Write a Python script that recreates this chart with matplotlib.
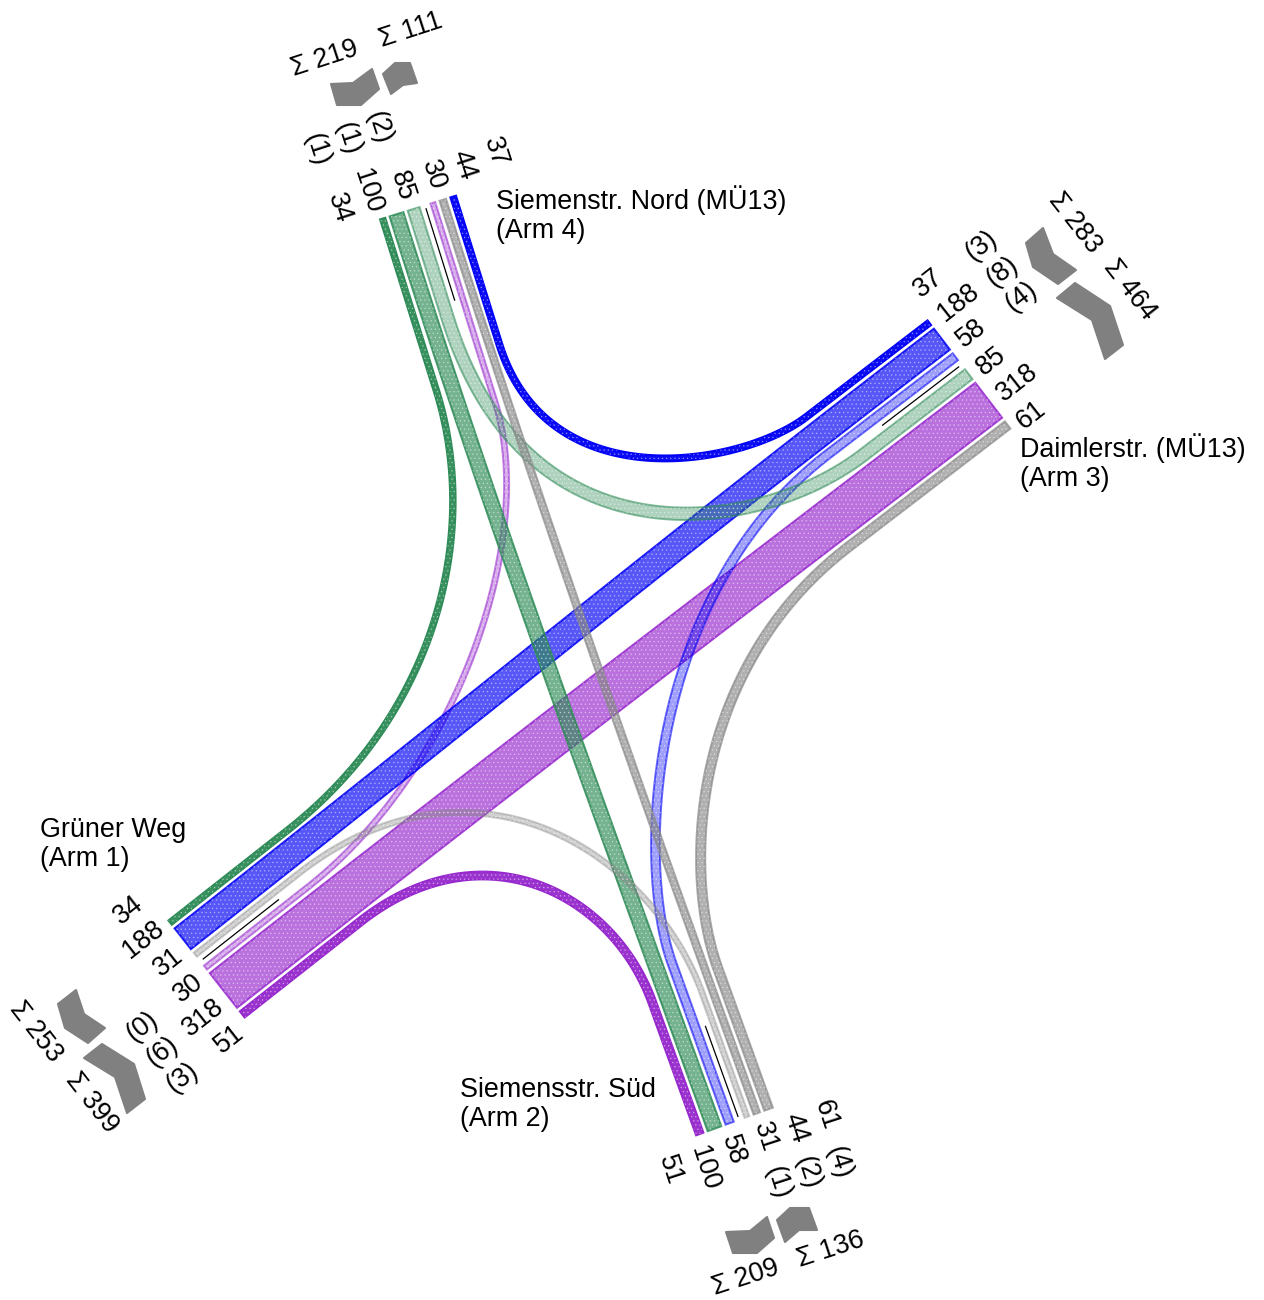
import numpy as np
import matplotlib
matplotlib.use("Agg")
import matplotlib.pyplot as plt
from matplotlib.patches import Polygon

plt.rcParams['font.family'] = ['Liberation Sans', 'DejaVu Sans']
plt.rcParams['hatch.linewidth'] = 0.5

# --- data -----------------------------------------------------------
arm1_values = [34, 188, 31, 30, 318, 51]
arm2_values = [51, 100, 58, 31, 44, 61]
arm3_values = [37, 188, 58, 85, 318, 61]
arm4_values = [34, 100, 85, 30, 44, 37]
arm1_heavy = [0, 6, 3]
arm2_heavy = [1, 2, 4]
arm3_heavy = [3, 8, 4]
arm4_heavy = [1, 1, 2]
arm1_sums = [253, 399]
arm2_sums = [209, 136]
arm3_sums = [283, 464]
arm4_sums = [219, 111]

# geometry of the arms: centre of the arm end, lateral unit vector, inward unit vector
arms = {
    1: dict(c=(206.5, 969.0), lat=(0.618, 0.786), inw=(0.786, -0.618), vals=arm1_values),
    2: dict(c=(734.5, 1121.5), lat=(0.94, -0.339), inw=(-0.339, -0.94), vals=arm2_values),
    3: dict(c=(969.0, 374.5), lat=(0.608, 0.794), inw=(-0.794, 0.608), vals=arm3_values),
    4: dict(c=(418.0, 207.5), lat=(0.954, -0.298), inw=(0.298, 0.954), vals=arm4_values),
}
W0, WK, GAP, MEDIAN = 2.8, 0.136, 2.6, 9.5
EDGE_PX = 1.9
for a in arms.values():
    w = [W0 + WK * v for v in a['vals']]
    gaps = [GAP, GAP, MEDIAN, GAP, GAP]
    total = sum(w) + sum(gaps)
    pos, cur = [], -total / 2
    for i, wi in enumerate(w):
        pos.append(cur + wi / 2)
        cur += wi + (gaps[i] if i < 5 else 0)
        if i == 2:
            a['med'] = cur - MEDIAN / 2
    a['pos'], a['w'] = pos, w

PALETTE = {'blue': (0, 0, 245), 'green': (46, 139, 87), 'purple': (150, 40, 205), 'gray': (135, 135, 135)}
ALPHA = {'solid': 0.95, 'mid': 0.66, 'light': 0.38}
EDGE_BOOST = {'blue': 0.2, 'green': 0.2, 'purple': 0.2, 'gray': 0.04}

# arm A, index in A, arm B, index in B, colour, class, straight A, straight B, handle A, handle B
# straight None marks a through movement, handles are then fractions of the chord
flows = [
    (3, 5, 2, 5, 'gray', 'mid', 200, 150, 0.72, 0.38),     # 61
    (1, 4, 3, 4, 'purple', 'mid', None, None, 0.33, 0.33), # 318
    (1, 5, 2, 0, 'purple', 'solid', 150, 140, 0.60, 0.45), # 51
    (4, 3, 1, 3, 'purple', 'light', 210, 130, 0.50, 0.55), # 30
    (4, 5, 3, 0, 'blue', 'solid', 155, 155, 0.63, 0.28),   # 37
    (3, 1, 1, 1, 'blue', 'mid', None, None, 0.33, 0.33),   # 188
    (3, 2, 2, 2, 'blue', 'light', 160, 170, 0.68, 0.33),   # 58
    (4, 0, 1, 0, 'green', 'solid', 180, 150, 0.55, 0.65),  # 34
    (4, 1, 2, 1, 'green', 'mid', None, None, 0.33, 0.33),  # 100
    (4, 2, 3, 3, 'green', 'light', 115, 133, 0.68, 0.35),  # 85
    (1, 2, 2, 3, 'gray', 'light', 130, 130, 0.62, 0.42),   # 31
    (2, 4, 4, 4, 'gray', 'mid', None, None, 0.33, 0.33),   # 44
]

# label placement
arm4_xy = [(339, 208), (368, 191), (402, 186), (433, 175), (464, 165), (495, 152)]
arm3_xy = [(928, 283), (958, 303), (971, 333), (991, 361), (1017, 383), (1031, 415)]
arm1_xy = [(128, 910), (143, 940), (168, 962), (188, 988), (203, 1018), (229, 1039)]
arm2_xy = [(670, 1170), (705, 1168), (733, 1150), (765, 1137), (796, 1128), (826, 1115)]
arm4_heavy_xy = [(317, 150), (348, 139), (379, 128)]
arm3_heavy_xy = [(981, 246), (1002, 272), (1021, 297)]
arm1_heavy_xy = [(142, 1027), (162, 1052), (182, 1078)]
arm2_heavy_xy = [(778, 1183), (808, 1173), (839, 1162)]
arm4_sum_xy = [(325, 59), (411, 30)]
arm3_sum_xy = [(1075, 223), (1130, 290)]
arm1_sum_xy = [(36, 1032), (92, 1103)]
arm2_sum_xy = [(746, 1278), (831, 1250)]
names = [
    ('Siemenstr. Nord (MÜ13)\n(Arm 4)', 496, 214.5),
    ('Daimlerstr. (MÜ13)\n(Arm 3)', 1020, 462.5),
    ('Grüner Weg\n(Arm 1)', 40, 844.5),
    ('Siemensstr. Süd\n(Arm 2)', 460, 1104.5),
]
icons = [
    [(331, 84), (353, 83), (372, 69), (379, 89), (361, 105), (337, 105)],
    [(383, 74), (395, 63), (410, 63), (417, 83), (403, 85), (391, 94)],
    [(1026, 243), (1043, 228), (1053, 254), (1076, 270), (1058, 284), (1033, 267)],
    [(1057, 298), (1075, 283), (1110, 306), (1123, 345), (1105, 359), (1092, 320)],
    [(58, 1004), (76, 990), (84, 1014), (105, 1028), (88, 1043), (65, 1028)],
    [(84, 1058), (102, 1044), (134, 1064), (145, 1099), (127, 1113), (115, 1077)],
    [(726, 1232), (750, 1231), (767, 1217), (774, 1238), (757, 1253), (733, 1253)],
    [(777, 1220), (790, 1208), (809, 1208), (817, 1230), (799, 1230), (785, 1242)],
]

# --- drawing --------------------------------------------------------
fig = plt.figure(figsize=(12.64, 13.0), dpi=100)
ax = fig.add_axes([0, 0, 1, 1])
ax.set_xlim(0, 1264); ax.set_ylim(1300, 0); ax.axis('off')


def centreline(A, ia, B, ib, la, lb, fa, fb):
    a, b = arms[A], arms[B]
    da, db = np.array(a['inw']), np.array(b['inw'])
    p0 = np.array(a['c']) + np.array(a['lat']) * a['pos'][ia]
    p3 = np.array(b['c']) + np.array(b['lat']) * b['pos'][ib]
    if la is None:
        chord = np.linalg.norm(p3 - p0)
        p1, p2 = p0, p3
        c1 = p0 + da * chord * fa
        c2 = p3 + db * chord * fb
    else:
        p1 = p0 + da * la
        p2 = p3 + db * lb
        s = np.linalg.solve(np.array([da, -db]).T, p2 - p1)
        C = p1 + s[0] * da
        c1 = p1 + fa * (C - p1)
        c2 = p2 + fb * (C - p2)
    t = np.linspace(0, 1, 160)[:, None]
    bez = (1 - t) ** 3 * p1 + 3 * (1 - t) ** 2 * t * c1 + 3 * (1 - t) * t ** 2 * c2 + t ** 3 * p2
    return np.vstack([p0, bez, p3]), da, db


for A, ia, B, ib, col, cls, la, lb, fa, fb in flows:
    pts, da, db = centreline(A, ia, B, ib, la, lb, fa, fb)
    width = arms[A]['w'][ia] - EDGE_PX
    tan = np.gradient(pts, axis=0)
    tan[0] = tan[1] = da
    tan[-1] = tan[-2] = -db
    tan /= np.linalg.norm(tan, axis=1, keepdims=True)
    nor = np.c_[-tan[:, 1], tan[:, 0]]
    left = pts + nor * width / 2
    right = pts - nor * width / 2
    poly = np.vstack([left, right[::-1], left[0]])
    rgb = tuple(c / 255 for c in PALETTE[col])
    al = ALPHA[cls]
    ax.add_patch(Polygon(poly, closed=True, facecolor=rgb + (al,), edgecolor='none', lw=0))
    ax.add_patch(Polygon(poly, closed=True, facecolor='none',
                         edgecolor=rgb + (min(1, al + EDGE_BOOST[col]),), lw=1.4, joinstyle='miter'))
    ax.add_patch(Polygon(poly, closed=True, facecolor='none', edgecolor=(1, 1, 1, 0.4),
                         hatch='....', lw=0))

for a in arms.values():
    c, lat, inw = np.array(a['c']), np.array(a['lat']), np.array(a['inw'])
    s = c + lat * a['med'] + inw * 3
    e = s + inw * 97
    ax.plot([s[0], e[0]], [s[1], e[1]], color='black', lw=0.9, solid_capstyle='butt')

for poly in icons:
    ax.add_patch(Polygon(poly, closed=True, facecolor='#808080', edgecolor='#808080',
                         lw=1.5, joinstyle='round'))

FS = 19.4


def put(txts, xys, rot):
    for s, (x, y) in zip(txts, xys):
        ax.text(x, y, s, rotation=rot, rotation_mode='anchor', ha='center', va='center',
                fontsize=FS, color='black')


put(map(str, arm4_values), arm4_xy, -72)
put(map(str, arm2_values), arm2_xy, -72)
put(map(str, arm1_values), arm1_xy, 38)
put(map(str, arm3_values), arm3_xy, 38)
put([f'({v})' for v in arm4_heavy], arm4_heavy_xy, -72)
put([f'({v})' for v in arm2_heavy], arm2_heavy_xy, -72)
put([f'({v})' for v in arm1_heavy], arm1_heavy_xy, 38)
put([f'({v})' for v in arm3_heavy], arm3_heavy_xy, 38)
put([f'Σ {v}' for v in arm4_sums], arm4_sum_xy, 18)
put([f'Σ {v}' for v in arm2_sums], arm2_sum_xy, 18)
put([f'Σ {v}' for v in arm1_sums], arm1_sum_xy, -52)
put([f'Σ {v}' for v in arm3_sums], arm3_sum_xy, -52)
for s, x, y in names:
    ax.text(x, y, s, ha='left', va='center', fontsize=FS, color='black', linespacing=1.15)

fig.savefig('out.png', dpi=100, facecolor='white')
